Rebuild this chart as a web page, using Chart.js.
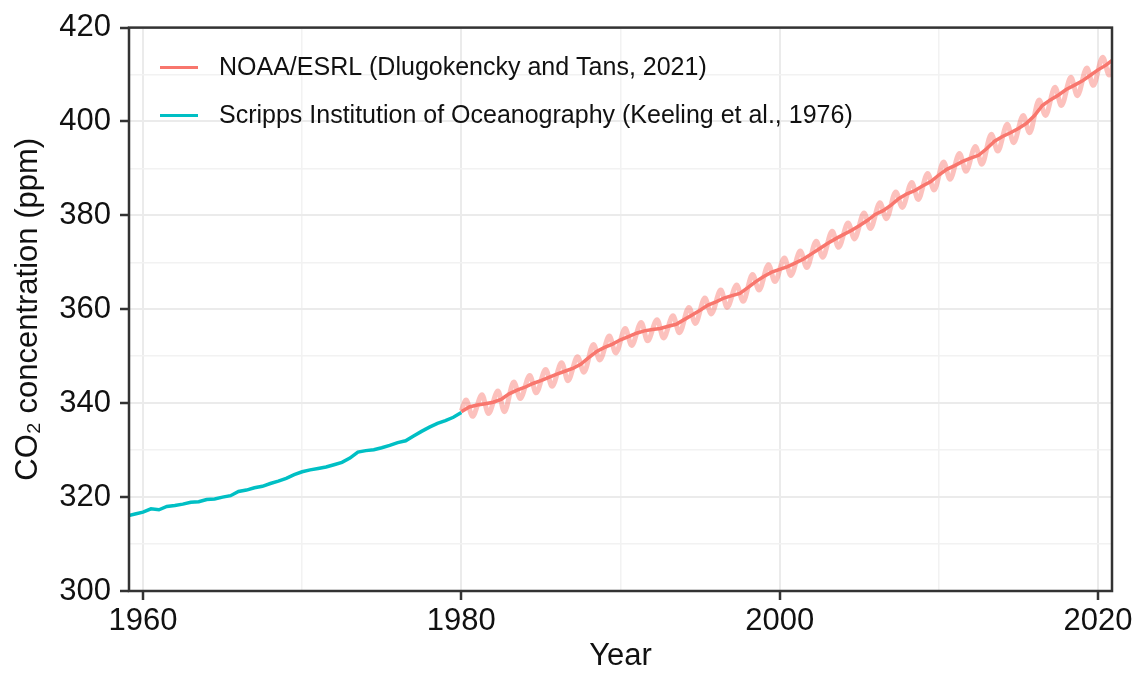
<!DOCTYPE html>
<html>
<head>
<meta charset="utf-8">
<title>CO2 concentration</title>
<script src="https://cdn.jsdelivr.net/npm/chart.js@4.4.1/dist/chart.umd.min.js"></script>
<style>
    html, body { margin: 0; padding: 0; background: #ffffff; }
    #wrap { width: 1140px; height: 673px; }
</style>
</head>
<body>
<div id="wrap"><canvas id="co2-chart" width="1140" height="673"></canvas></div>
<script>
// axis ranges and ticks
const xMin = 1959.12;
const xMax = 2020.88;
const xGridYears = [1960, 1970, 1980, 1990, 2000, 2010, 2020];
const xMajorYears = [1960, 1980, 2000, 2020];
const yMin = 300;
const yMax = 420;
const yGridValues = [300, 310, 320, 330, 340, 350, 360, 370, 380, 390, 400, 410, 420];
const yMajorValues = [300, 320, 340, 360, 380, 400, 420];

// Scripps series
const scrippsYears = [1958.5, 1959.0, 1959.5, 1960.0, 1960.5, 1961.0, 1961.5, 1962.0, 1962.5, 1963.0,
    1963.5, 1964.0, 1964.5, 1965.0, 1965.5, 1966.0, 1966.5, 1967.0, 1967.5, 1968.0,
    1968.5, 1969.0, 1969.5, 1970.0, 1970.5, 1971.0, 1971.5, 1972.0, 1972.5, 1973.0,
    1973.5, 1974.0, 1974.5, 1975.0, 1975.5, 1976.0, 1976.5, 1977.0, 1977.5, 1978.0,
    1978.5, 1979.0, 1979.5, 1980.0];
const scrippsPpm = [315.6, 316.0, 316.4, 316.8, 317.5, 317.3, 318.0, 318.2, 318.5, 318.9,
    319.0, 319.5, 319.6, 320.0, 320.3, 321.2, 321.5, 322.0, 322.3, 322.9,
    323.4, 324.0, 324.8, 325.4, 325.8, 326.1, 326.4, 326.9, 327.4, 328.3,
    329.6, 329.9, 330.1, 330.5, 331.0, 331.6, 332.0, 333.0, 334.0, 334.9,
    335.7, 336.3, 337.0, 338.0];

// NOAA deseasonalised trend
const noaaTrendYears = [1980.0, 1980.5, 1981.0, 1981.5, 1982.0, 1982.5, 1983.0, 1983.5, 1984.0, 1984.5,
    1985.0, 1985.5, 1986.0, 1986.5, 1987.0, 1987.5, 1988.0, 1988.5, 1989.0, 1989.5,
    1990.0, 1990.5, 1991.0, 1991.5, 1992.0, 1992.5, 1993.0, 1993.5, 1994.0, 1994.5,
    1995.0, 1995.5, 1996.0, 1996.5, 1997.0, 1997.5, 1998.0, 1998.5, 1999.0, 1999.5,
    2000.0, 2000.5, 2001.0, 2001.5, 2002.0, 2002.5, 2003.0, 2003.5, 2004.0, 2004.5,
    2005.0, 2005.5, 2006.0, 2006.5, 2007.0, 2007.5, 2008.0, 2008.5, 2009.0, 2009.5,
    2010.0, 2010.5, 2011.0, 2011.5, 2012.0, 2012.5, 2013.0, 2013.5, 2014.0, 2014.5,
    2015.0, 2015.5, 2016.0, 2016.5, 2017.0, 2017.5, 2018.0, 2018.5, 2019.0, 2019.5,
    2020.0, 2020.5, 2021.0];
const noaaTrendPpm = [338.2, 339.2, 339.6, 339.9, 340.2, 340.8, 342.0, 342.8, 343.4, 344.2,
    344.8, 345.5, 346.2, 346.8, 347.4, 348.3, 349.7, 351.0, 351.9, 352.6,
    353.5, 354.2, 354.9, 355.4, 355.7, 355.9, 356.4, 356.8, 357.8, 358.8,
    359.8, 360.9, 361.6, 362.4, 362.9, 363.4, 364.6, 365.9, 367.0, 367.9,
    368.5, 369.1, 369.9, 370.7, 371.8, 372.9, 374.0, 375.0, 375.9, 376.8,
    377.8, 378.9, 380.2, 381.0, 382.2, 383.6, 384.6, 385.3, 386.3, 387.2,
    388.6, 389.8, 390.6, 391.5, 392.2, 392.8, 394.2, 395.8, 396.8, 397.6,
    398.5, 399.6, 401.2, 403.4, 404.6, 405.6, 406.8, 407.7, 408.6, 409.8,
    411.0, 412.0, 413.3];

// NOAA monthly values: seasonal highs and lows
const noaaMonthlyYears = [1980.0,
    1980.3, 1980.7, 1981.3, 1981.7, 1982.3, 1982.7, 1983.3, 1983.7, 1984.3, 1984.7,
    1985.3, 1985.7, 1986.3, 1986.7, 1987.3, 1987.7, 1988.3, 1988.7, 1989.3, 1989.7,
    1990.3, 1990.7, 1991.3, 1991.7, 1992.3, 1992.7, 1993.3, 1993.7, 1994.3, 1994.7,
    1995.3, 1995.7, 1996.3, 1996.7, 1997.3, 1997.7, 1998.3, 1998.7, 1999.3, 1999.7,
    2000.3, 2000.7, 2001.3, 2001.7, 2002.3, 2002.7, 2003.3, 2003.7, 2004.3, 2004.7,
    2005.3, 2005.7, 2006.3, 2006.7, 2007.3, 2007.7, 2008.3, 2008.7, 2009.3, 2009.7,
    2010.3, 2010.7, 2011.3, 2011.7, 2012.3, 2012.7, 2013.3, 2013.7, 2014.3, 2014.7,
    2015.3, 2015.7, 2016.3, 2016.7, 2017.3, 2017.7, 2018.3, 2018.7, 2019.3, 2019.7,
    2020.3, 2020.7, 2021.0];
const noaaMonthlyPpm = [338.4,
    340.7, 337.2, 341.8, 337.8, 342.6, 338.2, 344.5, 341.0, 345.9, 342.2,
    347.2, 343.6, 348.6, 344.8, 349.9, 346.6, 352.5, 349.2, 354.3, 350.7,
    355.9, 352.3, 357.2, 353.3, 357.8, 353.9, 358.6, 355.0, 360.4, 357.0,
    362.4, 359.0, 364.1, 360.4, 365.2, 361.7, 367.4, 364.1, 369.5, 365.9,
    370.9, 367.2, 372.4, 368.9, 374.5, 371.1, 376.6, 373.2, 378.4, 375.0,
    380.5, 377.2, 382.7, 379.3, 385.0, 381.7, 387.0, 383.4, 388.9, 385.4,
    391.4, 387.7, 393.2, 389.4, 394.7, 390.9, 397.3, 393.7, 399.4, 395.5,
    401.3, 397.6, 404.6, 401.3, 407.3, 403.4, 409.4, 405.5, 411.4, 407.7,
    413.7, 409.9, 412.8];

const colors = {
    noaa: '#F8766D',
    noaaLight: 'rgba(248, 118, 109, 0.45)',
    scripps: '#00BFC4',
    text: '#111111',
    frame: '#333333',
    gridMajor: '#ebebeb',
    gridMinor: '#f2f2f2'
};

const fontFamily = "'Liberation Sans', Arial, Helvetica, sans-serif";
Chart.defaults.font.family = fontFamily;

function toPoints(xs, ys) {
    return xs.map((x, i) => ({ x: x, y: ys[i] }));
}

// frame around the panel
const panelFrame = {
    id: 'panelFrame',
    afterDatasetsDraw(chart) {
        const { ctx, chartArea: a } = chart;
        ctx.save();
        ctx.strokeStyle = colors.frame;
        ctx.lineWidth = 2.5;
        ctx.strokeRect(a.left, a.top, a.right - a.left, a.bottom - a.top);
        ctx.restore();
    }
};

// legend drawn inside the panel, top left
const insideLegend = {
    id: 'insideLegend',
    afterDraw(chart) {
        const { ctx, chartArea: a } = chart;
        let y = a.top + 40;
        ctx.save();
        ctx.font = '25px ' + fontFamily;
        ctx.textBaseline = 'middle';
        ctx.textAlign = 'left';
        chart.data.datasets.forEach(ds => {
            if (!ds.inLegend) return;
            ctx.strokeStyle = ds.borderColor;
            ctx.lineWidth = 3;
            ctx.beginPath();
            ctx.moveTo(a.left + 31, y);
            ctx.lineTo(a.left + 69, y);
            ctx.stroke();
            ctx.fillStyle = colors.text;
            ctx.fillText(ds.label, a.left + 90, y + 1);
            y += 48;
        });
        ctx.restore();
    }
};

const ctx = document.getElementById('co2-chart').getContext('2d');
new Chart(ctx, {
    type: 'line',
    data: {
        datasets: [
            {
                label: 'NOAA/ESRL (Dlugokencky and Tans, 2021)',
                data: toPoints(noaaTrendYears, noaaTrendPpm),
                borderColor: colors.noaa,
                borderWidth: 3.5,
                pointRadius: 0,
                tension: 0,
                clip: 0,
                inLegend: true
            },
            {
                label: 'NOAA/ESRL monthly',
                data: toPoints(noaaMonthlyYears, noaaMonthlyPpm),
                borderColor: colors.noaaLight,
                borderWidth: 5,
                pointRadius: 0,
                cubicInterpolationMode: 'monotone',
                clip: 0,
                inLegend: false
            },
            {
                label: 'Scripps Institution of Oceanography (Keeling et al., 1976)',
                data: toPoints(scrippsYears, scrippsPpm),
                borderColor: colors.scripps,
                borderWidth: 3.5,
                pointRadius: 0,
                tension: 0,
                clip: 0,
                inLegend: true
            }
        ]
    },
    options: {
        responsive: false,
        animation: false,
        events: [],
        layout: { padding: { top: 24, right: 28, bottom: 0, left: 0 } },
        plugins: {
            legend: { display: false },
            tooltip: { enabled: false }
        },
        scales: {
            x: {
                type: 'linear',
                min: xMin,
                max: xMax,
                afterBuildTicks: s => { s.ticks = xGridYears.map(v => ({ value: v })); },
                afterFit: s => { s.height = 82; },
                ticks: {
                    autoSkip: false,
                    maxRotation: 0,
                    padding: 3,
                    color: colors.text,
                    font: { size: 31 },
                    callback: v => xMajorYears.includes(v) ? String(v) : ''
                },
                grid: {
                    color: c => xMajorYears.includes(c.tick.value) ? colors.gridMajor : colors.gridMinor,
                    lineWidth: c => xMajorYears.includes(c.tick.value) ? 2 : 1.5,
                    tickLength: 9,
                    tickWidth: 2.5,
                    tickColor: c => xMajorYears.includes(c.tick.value) ? colors.frame : 'rgba(0,0,0,0)'
                },
                border: { display: false },
                title: {
                    display: true,
                    text: 'Year',
                    color: colors.text,
                    font: { size: 31, lineHeight: 1 },
                    padding: { top: 0, bottom: 1 }
                }
            },
            y: {
                type: 'linear',
                min: yMin,
                max: yMax,
                afterBuildTicks: s => { s.ticks = yGridValues.map(v => ({ value: v })); },
                afterFit: s => { s.width = 129; },
                ticks: {
                    padding: 9,
                    color: colors.text,
                    font: { size: 31 },
                    callback: v => yMajorValues.includes(v) ? String(v) : ''
                },
                grid: {
                    color: c => yMajorValues.includes(c.tick.value) ? colors.gridMajor : colors.gridMinor,
                    lineWidth: c => yMajorValues.includes(c.tick.value) ? 2 : 1.5,
                    tickLength: 9,
                    tickWidth: 2.5,
                    tickColor: c => yMajorValues.includes(c.tick.value) ? colors.frame : 'rgba(0,0,0,0)'
                },
                border: { display: false },
                title: {
                    display: true,
                    text: 'CO₂ concentration (ppm)',
                    color: colors.text,
                    font: { size: 31, lineHeight: 1 },
                    padding: { top: 13, bottom: 0 }
                }
            }
        }
    },
    plugins: [panelFrame, insideLegend]
});
</script>
</body>
</html>
